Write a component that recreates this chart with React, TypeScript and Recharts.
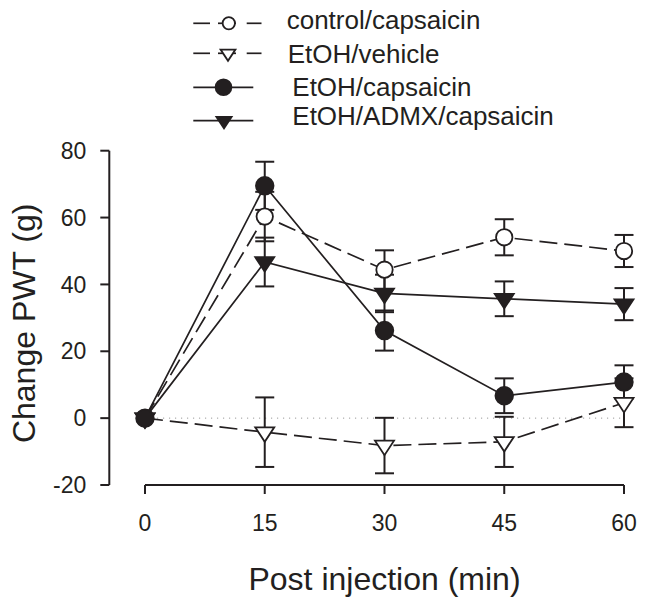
import React from 'react';
import { LineChart, Line, XAxis, YAxis, ErrorBar, ReferenceLine, Legend, Label } from 'recharts';

// ---------- data ----------
const minutes = [0, 15, 30, 45, 60];
const xTicks = [0, 15, 30, 45, 60];
const yTicks = [-20, 0, 20, 40, 60, 80];

const seriesNames = ['control/capsaicin', 'EtOH/vehicle', 'EtOH/capsaicin', 'EtOH/ADMX/capsaicin'];

const controlCapsaicin = [0, 60.3, 44.4, 54.1, 50.0];
const controlCapsaicinErr = [0, 7.4, 5.8, 5.4, 4.8];

const etohVehicle = [0, -4.2, -8.2, -7.1, 4.6];
const etohVehicleErr = [0, 10.4, 8.3, 7.5, 7.3];

const etohCapsaicin = [0, 69.5, 26.2, 6.7, 10.8];
const etohCapsaicinErr = [0, 7.2, 6.0, 5.2, 5.0];

const etohAdmxCapsaicin = [0, 46.7, 37.3, 35.7, 34.1];
const etohAdmxCapsaicinErr = [0, 7.3, 5.6, 5.2, 4.8];

const xLabel = 'Post injection (min)';
const yLabel = 'Change PWT (g)';

// ---------- styling ----------
const FONT = "'Liberation Sans', Arial, Helvetica, sans-serif";
const INK = '#231f20';

type MarkerKind = 'openCircle' | 'openTri' | 'filledCircle' | 'filledTri';

const series = [
  { key: 'control', err: 'controlErr', name: seriesNames[0], values: controlCapsaicin, errs: controlCapsaicinErr, marker: 'openCircle' as MarkerKind, dashed: true },
  { key: 'vehicle', err: 'vehicleErr', name: seriesNames[1], values: etohVehicle, errs: etohVehicleErr, marker: 'openTri' as MarkerKind, dashed: true },
  { key: 'admx', err: 'admxErr', name: seriesNames[3], values: etohAdmxCapsaicin, errs: etohAdmxCapsaicinErr, marker: 'filledTri' as MarkerKind, dashed: false },
  { key: 'capsaicin', err: 'capsaicinErr', name: seriesNames[2], values: etohCapsaicin, errs: etohCapsaicinErr, marker: 'filledCircle' as MarkerKind, dashed: false },
];

const data = minutes.map((m, i) => {
  const row: Record<string, number> = { min: m };
  series.forEach((s) => {
    row[s.key] = s.values[i];
    row[s.err] = s.errs[i];
  });
  return row;
});

function markerShape(kind: MarkerKind, cx: number, cy: number, scale = 1, key?: any) {
  const sw = 1.8;
  if (kind === 'openCircle' || kind === 'filledCircle') {
    const r = (kind === 'openCircle' ? 8.2 : 8.8) * scale;
    return (
      <circle key={key} cx={cx} cy={cy} r={r}
        fill={kind === 'openCircle' ? '#ffffff' : INK}
        stroke={INK} strokeWidth={sw} />
    );
  }
  const w = 19 * scale;
  const h = 14.5 * scale;
  const top = cy - h / 3;
  const d = `M${cx - w / 2},${top} L${cx + w / 2},${top} L${cx},${top + h} Z`;
  return (
    <path key={key} d={d} fill={kind === 'openTri' ? '#ffffff' : INK}
      stroke={INK} strokeWidth={sw} strokeLinejoin="miter" />
  );
}

const makeDot = (kind: MarkerKind) => (props: any) => {
  const { cx, cy, index } = props;
  if (cx == null || cy == null) return <g key={`d-${kind}-${index}`} />;
  return markerShape(kind, cx, cy, 1, `d-${kind}-${index}`);
};

// ---------- legend ----------
const legendRows = [
  { name: seriesNames[0], marker: 'openCircle' as MarkerKind, dashed: true, lineY: 23.3, textY: 29.3, textX: 286.7, mx: 228.8, ms: 0.75 },
  { name: seriesNames[1], marker: 'openTri' as MarkerKind, dashed: true, lineY: 53.3, textY: 63.3, textX: 287.7, mx: 228, ms: 0.78 },
  { name: seriesNames[2], marker: 'filledCircle' as MarkerKind, dashed: false, lineY: 87.3, textY: 95.7, textX: 292.3, mx: 223.5, ms: 0.9 },
  { name: seriesNames[3], marker: 'filledTri' as MarkerKind, dashed: false, lineY: 120.7, textY: 125, textX: 292.3, mx: 224, ms: 0.8 },
];

const renderLegend = () => (
  <svg width={649} height={140} style={{ display: 'block', overflow: 'visible' }}>
    {legendRows.map((r, i) => (
      <g key={i}>
        {r.dashed ? (
          <g stroke={INK} strokeWidth={1.7}>
            <line x1={193.3} y1={r.lineY} x2={210} y2={r.lineY} />
            <line x1={218} y1={r.lineY} x2={236} y2={r.lineY} />
            <line x1={246.7} y1={r.lineY} x2={261.5} y2={r.lineY} />
          </g>
        ) : (
          <line x1={193.3} y1={r.lineY} x2={253.3} y2={r.lineY} stroke={INK} strokeWidth={1.7} />
        )}
        {markerShape(r.marker, r.mx, r.lineY, r.ms)}
        <text x={r.textX} y={r.textY} fontFamily={FONT} fontSize={26} fill={INK}>{r.name}</text>
      </g>
    ))}
  </svg>
);

// ---------- axis labels ----------
const YLabelContent = (props: any) => {
  const vb = props.viewBox || {};
  const x = (vb.x ?? 0) + 35;
  const y = (vb.y ?? 0) + (vb.height ?? 0) / 2 + 5.5;
  return (
    <text transform={`translate(${x},${y}) rotate(-90)`} textAnchor="middle"
      fontFamily={FONT} fontSize={32} fill={INK}>{yLabel}</text>
  );
};

const XLabelContent = (props: any) => {
  const vb = props.viewBox || {};
  const x = (vb.x ?? 0) + (vb.width ?? 0) / 2 + 17.85;
  const y = (vb.y ?? 0) + 105;
  return (
    <text x={x} y={y} textAnchor="middle" fontFamily={FONT} fontSize={32} fill={INK}>{xLabel}</text>
  );
};

const tickStyle = { fontFamily: FONT, fontSize: 23, fill: INK };

export default function App() {
  return (
    <div style={{ width: 649, height: 608, position: 'relative', margin: '-8px 0 0 -8px' }}>
      <LineChart width={649} height={608} data={data}
        margin={{ top: 150.7, right: 25, bottom: 0, left: 0 }}>
        <XAxis dataKey="min" type="number" domain={[-4.47, 60]} ticks={xTicks}
          axisLine={false} tickSize={9} tickMargin={21}
          tickLine={{ stroke: INK, strokeWidth: 2 }} tick={tickStyle}
          height={123} interval={0}>
          <Label content={XLabelContent} />
        </XAxis>
        <YAxis type="number" domain={[-20, 80]} ticks={yTicks} width={109.3}
          axisLine={{ stroke: INK, strokeWidth: 2 }} tickLine={{ stroke: INK, strokeWidth: 2 }}
          tickSize={9} tickMargin={14} tick={tickStyle} interval={0}>
          <Label content={YLabelContent} />
        </YAxis>
        <ReferenceLine segment={[{ x: 0, y: -20 }, { x: 60, y: -20 }]} stroke={INK} strokeWidth={2} ifOverflow="visible" />
        <ReferenceLine segment={[{ x: 0, y: 0 }, { x: 60, y: 0 }]} stroke="#9a9a9a" strokeWidth={1} strokeDasharray="1.2 4.8" ifOverflow="visible" />
        <Legend layout="horizontal" verticalAlign="middle" align="center" content={renderLegend}
          wrapperStyle={{ position: 'absolute', top: 0, left: 0, width: 649, height: 140, margin: 0, padding: 0 }} />
        {series.map((s) => (
          <Line key={s.key} dataKey={s.key} name={s.name} type="linear" stroke={INK} strokeWidth={1.7}
            strokeDasharray={s.dashed ? '18 7' : undefined}
            dot={makeDot(s.marker)} activeDot={false} isAnimationActive={false} legendType="none">
            <ErrorBar dataKey={s.err} direction="y" width={9.5} stroke={INK} strokeWidth={2} />
          </Line>
        ))}
      </LineChart>
    </div>
  );
}
